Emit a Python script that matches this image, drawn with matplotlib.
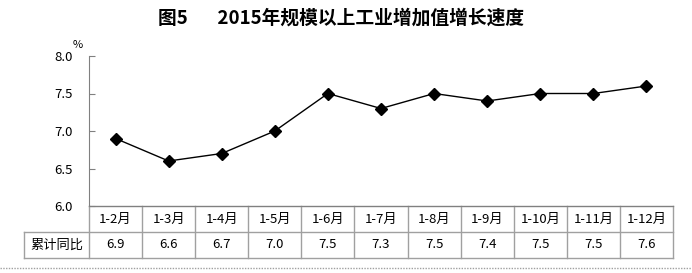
import matplotlib.pyplot as plt
import matplotlib.transforms as mtransforms
from matplotlib.lines import Line2D

plt.rcParams['font.family'] = ['Noto Sans CJK SC', 'DejaVu Sans']

# data
months = ["1-2月", "1-3月", "1-4月", "1-5月", "1-6月", "1-7月",
          "1-8月", "1-9月", "1-10月", "1-11月", "1-12月"]
growth = [6.9, 6.6, 6.7, 7.0, 7.5, 7.3, 7.5, 7.4, 7.5, 7.5, 7.6]
row_label = "累计同比"
title = "图5       2015年规模以上工业增加值增长速度"

fig = plt.figure(figsize=(6.92, 2.73), dpi=100)
ax = fig.add_axes([89 / 692, 1 - 206 / 273, (673 - 89) / 692, 150 / 273])

x = list(range(len(months)))
ax.plot(x, growth, color="black", linewidth=1, marker="D", markersize=6,
        markerfacecolor="black", markeredgecolor="black")

ax.set_xlim(-0.5, len(months) - 0.5)
ax.set_ylim(6.0, 8.0)
ax.set_yticks([6.0, 6.5, 7.0, 7.5, 8.0])
ax.set_yticklabels([f"{v:.1f}" for v in [6.0, 6.5, 7.0, 7.5, 8.0]], fontsize=9.5)
ax.set_xticks([])
ax.tick_params(axis="y", direction="in", length=4, color="#808080", pad=12)
for s in ["top", "right"]:
    ax.spines[s].set_visible(False)
ax.spines["left"].set_color("#808080")
ax.spines["bottom"].set_color("#808080")

ax.text(-0.02, 1.04, "%", transform=ax.transAxes, fontsize=8, ha="center", va="bottom")

fig.text(341 / 692, 1 - 18 / 273, title, fontsize=13.5, fontweight="bold",
         ha="center", va="center")

# table under the axis
trans = mtransforms.blended_transform_factory(ax.transData, ax.transAxes)
row_h = 26 / 150
grid_c = "#a0a0a0"
left_x = -0.5 - 65 / (584 / 11)
n = len(months)
lines = []
# horizontal lines
lines.append(([-0.5, n - 0.5], [0, 0]))
lines.append(([left_x, n - 0.5], [-row_h, -row_h]))
lines.append(([left_x, n - 0.5], [-2 * row_h, -2 * row_h]))
# vertical lines
for i in range(n + 1):
    lines.append(([i - 0.5, i - 0.5], [0, -2 * row_h]))
lines.append(([left_x, left_x], [-row_h, -2 * row_h]))
for xs, ys in lines:
    ax.add_line(Line2D(xs, ys, transform=trans, color=grid_c, linewidth=1, clip_on=False))

for i, (m, v) in enumerate(zip(months, growth)):
    ax.text(i, -row_h / 2, m, transform=trans, ha="center", va="center", fontsize=9.5)
    ax.text(i, -1.5 * row_h, f"{v:.1f}", transform=trans, ha="center", va="center", fontsize=9.5)
ax.text((left_x - 0.5) / 2, -1.5 * row_h, row_label, transform=trans,
        ha="center", va="center", fontsize=9.5)

# dotted line at bottom
fig.add_artist(Line2D([0, 1], [1 - 268 / 273, 1 - 268 / 273], transform=fig.transFigure,
                      color="#a0a0a0", linestyle=(0, (1, 1)), linewidth=1))

fig.savefig("out.png", dpi=100)
